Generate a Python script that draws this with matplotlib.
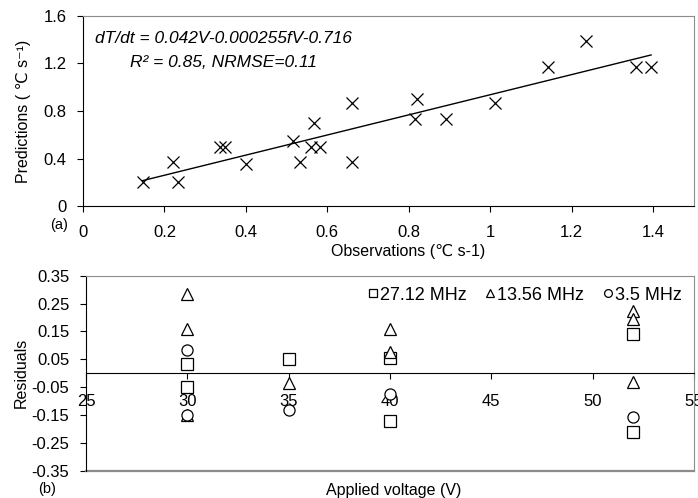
import matplotlib
matplotlib.use('Agg')
import matplotlib.pyplot as plt
import numpy as np

plt.rcParams['font.family'] = ['Liberation Sans', 'DejaVu Sans']

# (a) observed vs predicted heating rate
obs = [0.146, 0.220, 0.234, 0.336, 0.348, 0.400, 0.516, 0.532, 0.561, 0.567, 0.582,
       0.661, 0.661, 0.815, 0.820, 0.891, 1.012, 1.141, 1.234, 1.359, 1.395]
pred = [0.20, 0.37, 0.20, 0.50, 0.50, 0.35, 0.55, 0.37, 0.50, 0.70, 0.50,
        0.87, 0.37, 0.73, 0.90, 0.73, 0.87, 1.17, 1.39, 1.17, 1.17]

# (b) residuals by applied voltage for each frequency
v_27 = [30, 30, 35, 40, 40, 52, 52]
res_27 = [0.035, -0.05, 0.05, 0.055, -0.17, 0.14, -0.21]
v_13 = [30, 30, 30, 35, 40, 40, 52, 52, 52]
res_13 = [0.285, 0.16, -0.15, -0.035, 0.16, 0.075, 0.225, 0.195, -0.03]
v_35 = [30, 30, 35, 40, 52]
res_35 = [0.085, -0.15, -0.13, -0.075, -0.155]

gray = '#8c8c8c'

fig = plt.figure(figsize=(6.98, 4.98), dpi=100)
ax1 = fig.add_axes([0.119, 0.5863, 0.875, 0.3817])
ax2 = fig.add_axes([0.1232, 0.0542, 0.8708, 0.3922])

# --- top panel ---
ax1.plot(obs, pred, 'x', color='black', ms=8, mew=0.9)
k, b = np.polyfit(obs, pred, 1)
xl = np.array([min(obs), max(obs)])
ax1.plot(xl, k * xl + b, color='black', lw=1)
ax1.set_xlim(0, 1.5)
ax1.set_ylim(0, 1.6)
ax1.set_xticks([0, 0.2, 0.4, 0.6, 0.8, 1.0, 1.2, 1.4])
ax1.set_xticklabels(['0', '0.2', '0.4', '0.6', '0.8', '1', '1.2', '1.4'])
ax1.set_yticks([0, 0.4, 0.8, 1.2, 1.6])
ax1.set_yticklabels(['0', '0.4', '0.8', '1.2', '1.6'])
ax1.tick_params(axis='x', direction='out', length=4, pad=9.5, labelsize=12)
ax1.tick_params(axis='y', direction='out', length=4, pad=8, labelsize=12)
ax1.set_xlabel('Observations (\u2103 s-1)', fontsize=11.5)
ax1.xaxis.set_label_coords(0.532, -0.2)
ax1.set_ylabel('Predictions ( \u2103 s\u207b\u00b9)', fontsize=11.5)
ax1.yaxis.set_label_coords(-0.086, 0.5)
ax1.text(0.344, 1.406, 'dT/dt = 0.042V-0.000255fV-0.716', style='italic',
         fontsize=12.5, ha='center', va='center')
ax1.text(0.344, 1.211, 'R\u00b2 = 0.85, NRMSE=0.11', style='italic',
         fontsize=12.5, ha='center', va='center')
for s in ['top', 'right']:
    ax1.spines[s].set_color(gray)
for s in ['left', 'bottom']:
    ax1.spines[s].set_color('black')

# --- bottom panel ---
mk = dict(linestyle='none', mfc='white', mec='black', ms=8, mew=0.9)
ax2.plot(v_27, res_27, marker='s', label='27.12 MHz', **mk)
ax2.plot(v_13, res_13, marker='^', label='13.56 MHz', **mk)
ax2.plot(v_35, res_35, marker='o', label='3.5 MHz', **mk)
ax2.set_xlim(25, 55)
ax2.set_ylim(-0.35, 0.35)
ax2.set_xticks([25, 30, 35, 40, 45, 50, 55])
ax2.set_yticks([0.35, 0.25, 0.15, 0.05, -0.05, -0.15, -0.25, -0.35])
ax2.set_yticklabels(['0.35', '0.25', '0.15', '0.05', '-0.05', '-0.15', '-0.25', '-0.35'])
ax2.spines['bottom'].set_position(('data', 0))
ax2.spines['bottom'].set_color('black')
ax2.spines['left'].set_color('black')
for s in ['top', 'right']:
    ax2.spines[s].set_color(gray)
ax2.axhline(-0.35, color=gray, lw=1.6, clip_on=False)
ax2.tick_params(axis='x', direction='out', length=4, pad=11, labelsize=12)
ax2.tick_params(axis='y', direction='out', length=4, pad=8, labelsize=12)
ax2.set_ylabel('Residuals', fontsize=11.5)
ax2.yaxis.set_label_coords(-0.095, 0.5)
ax2.set_xlabel('Applied voltage (V)', fontsize=11.5)
ax2.xaxis.set_label_coords(0.507, -0.061)
ax2.legend(loc='upper right', bbox_to_anchor=(0.998, 1.0), ncol=3, frameon=False,
           fontsize=13, markerscale=0.7, handlelength=0.6, handletextpad=0.1,
           columnspacing=1.0, borderaxespad=0.2)

fig.text(0.0845, 0.548, '(a)', fontsize=10.5, ha='center', va='center')
fig.text(0.067, 0.018, '(b)', fontsize=10.5, ha='center', va='center')

fig.savefig('out.png', dpi=100)
